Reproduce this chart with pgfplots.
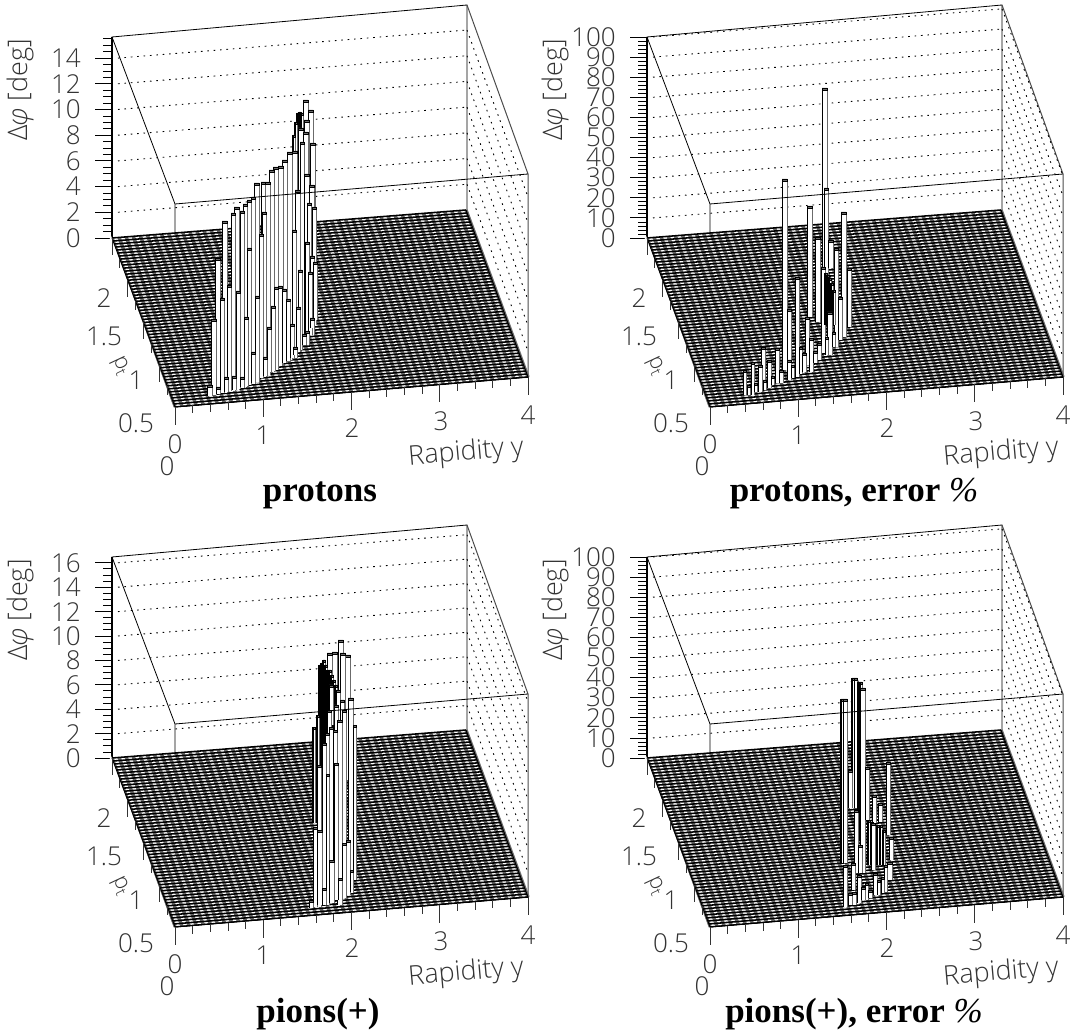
\documentclass[border=0pt]{standalone}
\usepackage{pgfplots}
\usepackage{pgfplotstable}
\usepackage{fontspec}
\pgfplotsset{compat=1.18}
\setmainfont{Open Sans Light}
\newfontfamily\titlefont{Liberation Serif}
\definecolor{lab}{gray}{0.2}
\definecolor{stripe}{gray}{0.42}

\pgfplotstableread{
x w t b
303 5 100 345
308 5 110 335
297 2 113 200
299 2 112 200
301 2 113 200
295 2 122 200
293 2 135 200
304 5 120 338
298 5 128 340
303 5 132 340
300 4 142 340
310 5 143 320
292 5 151 358
287 5 152 360
282 5 160 363
278 5 166 366
273 5 167 370
269 5 170 372
265 5 182 375
261 4 182 377
254 5 183 382
251 4 197 384
247 4 200 385
243 4 204 387
234 5 207 390
240 4 211 388
231 4 213 391
222 5 221 393
304 5 174 345
309 5 185 335
295 5 190 352
307 4 203 335
312 4 207 325
262 4 212 377
292 4 230 355
259 4 234 378
305 4 242 342
247 4 248 385
310 4 256 330
215 5 258 394
313 4 262 320
298 4 270 350
308 4 272 335
227 4 285 391
278 4 286 366
274 4 287 369
282 4 289 363
236 4 291 389
255 4 296 381
220 4 298 393
286 4 299 361
271 4 306 371
296 4 307 352
244 4 317 386
310 4 318 328
211 5 319 395
290 4 324 358
267 4 327 372
305 4 331 340
302 4 334 345
293 4 347 355
251 4 352 383
263 4 357 376
232 4 376 390
240 4 377 387
224 4 377 392
207 5 385 396
216 4 387 394
}\tblA

\pgfplotstableread{
x w t b
287 5 88 280
247 5 179 370
272 5 206 317
306 5 212 337
289 4 188 300
280 5 237 322
293 5 240 268
299 4 248 347
286 4 267 353
312 4 268 327
260 4 277 377
290 2 273 325
292 2 275 325
294 2 278 325
296 2 283 325
298 2 290 325
303 4 297 340
252 4 309 378
292 5 312 355
270 4 317 365
297 3 332 347
290 3 337 355
274 4 338 372
282 4 343 360
226 4 347 380
240 4 348 383
264 3 347 374
278 4 351 363
267 4 353 372
232 4 360 388
252 4 360 380
216 3 362 395
223 4 365 392
256 3 365 378
208 3 370 395
244 4 370 383
236 3 376 385
228 3 380 390
219 3 383 392
212 3 385 395
}\tblB

\pgfplotstableread{
x w t b
338 5 120 260
332 5 132 260
327 5 133 260
345 5 135 260
340 5 133 260
319 2 145 300
321 2 143 300
323 2 140 300
325 2 145 300
327 2 150 300
329 2 150 300
331 2 155 300
333 2 160 300
335 2 165 300
337 2 175 300
315 2 207 303
313 2 207 303
317 2 195 303
336 4 170 230
329 4 165 205
334 4 185 240
327 4 190 215
340 4 180 260
348 5 178 373
342 4 190 370
337 5 200 385
353 3 205 360
329 4 207 383
333 4 210 380
325 4 213 385
322 4 223 385
317 4 245 387
334 4 243 380
326 3 254 383
313 4 307 387
317 5 310 385
346 4 320 375
342 4 323 378
329 5 340 383
350 3 350 372
338 4 358 380
322 4 368 385
309 4 380 388
}\tblC

\pgfplotstableread{
x w t b
317 2 158 288
319 3 158 288
323 2 162 300
325 2 162 320
325 5 168 353
306 2 179 343
308 4 179 343
330 4 247 300
351 4 242 315
313 4 250 288
337 4 275 303
343 4 283 302
319 4 290 353
333 2 300 345
336 2 302 345
339 2 305 345
342 2 305 345
345 2 305 345
348 2 310 345
336 4 303 350
354 4 317 340
323 4 325 353
352 5 342 360
316 4 343 370
308 4 345 387
349 3 345 372
338 4 353 375
322 4 355 383
346 3 357 373
342 3 360 375
330 3 363 380
326 4 367 380
333 4 370 378
317 4 372 385
313 4 373 385
}\tblD

\def\meshS{}\def\meshR{}
\pgfplotsforeachungrouped \i in {0,...,50}{%
  \pgfmathsetmacro\ax{175+\i/50*353}\pgfmathsetmacro\ay{407-\i/50*30}%
  \pgfmathsetmacro\bx{112+\i/50*354}\pgfmathsetmacro\by{238-\i/50*28}%
  \xdef\meshS{\meshS(\ax,\ay)(\bx,\by)(nan,nan)}%
}
\pgfplotsforeachungrouped \i in {0,...,56}{%
  \pgfmathsetmacro\ax{175-\i/56*63}\pgfmathsetmacro\ay{407-\i/56*169}%
  \pgfmathsetmacro\bx{528-\i/56*62}\pgfmathsetmacro\by{377-\i/56*167}%
  \xdef\meshR{\meshR(\ax,\ay)(\bx,\by)(nan,nan)}%
}

\newcommand\seg[5]{\edef\tmp{\noexpand\addplot[#1] coordinates {(#2,#3)(#4,#5)};}\tmp}

\newcommand\drawbars[1]{%
  \pgfplotstablegetrowsof{#1}\pgfmathtruncatemacro\nr{\pgfplotsretval-1}%
  \pgfplotsforeachungrouped \r in {0,...,\nr}{%
    \pgfplotstablegetelem{\r}{x}\of{#1}\let\bx\pgfplotsretval
    \pgfplotstablegetelem{\r}{w}\of{#1}\let\bw\pgfplotsretval
    \pgfplotstablegetelem{\r}{t}\of{#1}\let\bt\pgfplotsretval
    \pgfplotstablegetelem{\r}{b}\of{#1}\let\bb\pgfplotsretval
    \pgfmathsetmacro\bxr{\bx+\bw}\pgfmathsetmacro\bc{\bt+2.5}%
    \ifnum\bw=2 \def\lw{2.6pt}\else\def\lw{1pt}\fi
    \edef\tmp{%
      \noexpand\addplot[fill=white,draw=none] coordinates {(\bx,\bb)(\bx,\bt)(\bxr,\bt)(\bxr,\bb)};
      \noexpand\addplot[draw=stripe,line width=.9pt] coordinates {(\bxr,\bt)(\bxr,\bb)};
      \noexpand\addplot[draw=black,line width=\lw] coordinates {(\bx,\bb)(\bx,\bt)};
      \noexpand\addplot[fill=stripe,draw=black,line width=.5pt] coordinates {(\bx,\bc)(\bx,\bt)(\bxr,\bt)(\bxr,\bc)(\bx,\bc)};
    }\tmp
  }}

\newcommand\panel[9]{%
\begin{axis}[at={(#1pt,#2pt)},anchor=south west,width=535pt,height=520pt,scale only axis,
  xmin=0,xmax=535,ymin=0,ymax=520,y dir=reverse,hide axis,clip=false,unbounded coords=jump]
  \addplot[black,line width=.8pt] coordinates {(112,238)(112,37)(467,5)(467,210)};
  \addplot[black,line width=.8pt] coordinates {(112,37)(175,204)(175,240)};
  \addplot[black!70,line width=1pt] coordinates {(467,5)(528,174)(528,377)};
  \pgfplotsforeachungrouped \i in {0,...,#6}{%
    \pgfmathsetmacro\zy{238-\i*#3}%
    \pgfmathtruncatemacro\m{mod(\i,#4)}%
    \ifnum\m=0
      \pgfmathtruncatemacro\lv{\i/#4*#5}%
      \seg{black,line width=.8pt}{95}{\zy}{112}{\zy}%
      \edef\tmp{\noexpand\node[zlab] at (axis cs:81,\zy) [anchor=east] {\lv};}\tmp
      \ifnum\i>0
        \pgfmathsetmacro\ya{\zy-28}\pgfmathsetmacro\yb{\zy-28+167}%
        \seg{black,line width=.9pt,dash pattern=on 1.6pt off 4.8pt}{118}{\zy}{466}{\ya}%
        \seg{black,line width=.9pt,dash pattern=on 1.6pt off 4.8pt}{467}{\ya}{528}{\yb}%
      \fi
    \else
      \seg{black,line width=.8pt}{103}{\zy}{112}{\zy}%
    \fi
  }
  \addplot[black,line width=1.3pt] coordinates {(112,238)(112,37)};
  \addplot[fill=white,draw=none] coordinates {(112,238)(466,210)(528,377)(175,407)};
  \edef\tmp{\noexpand\addplot[stripe,line width=3.4pt] coordinates {\meshS};}\tmp
  \edef\tmp{\noexpand\addplot[black,line width=1.55pt] coordinates {\meshR};}\tmp
  \addplot[fill=none,draw=white,line width=2pt] coordinates {(110,236)(173,409)(530,379)};
  \addplot[black,line width=1pt] coordinates {(112,238)(175,407)(528,377)(466,210)};
  \pgfplotsforeachungrouped \i in {0,...,20}{%
    \pgfmathsetmacro\tx{175+\i/20*353}\pgfmathsetmacro\ty{407-\i/20*30}%
    \pgfmathtruncatemacro\m{mod(\i,5)}%
    \ifnum\m=0 \pgfmathsetmacro\te{\ty+18}\else\pgfmathsetmacro\te{\ty+8}\fi
    \seg{black!80,line width=.9pt}{\tx}{\ty}{\tx}{\te}%
  }
  \pgfplotsforeachungrouped \i in {1,...,8}{%
    \pgfmathsetmacro\tx{175-\i/8*63}\pgfmathsetmacro\ty{407-\i/8*169}%
    \pgfmathtruncatemacro\m{mod(\i,2)}%
    \ifnum\m=0 \pgfmathsetmacro\te{\ty+17}\else\pgfmathsetmacro\te{\ty+9}\fi
    \seg{black!80,line width=.9pt}{\tx}{\ty}{\tx}{\te}%
  }
  \drawbars{#7}
  \addplot[black,line width=.8pt] coordinates {(175,204)(528,174)};
  \node[alab,rotate=90] at (axis cs:20,90) {Δ\textit{φ} [deg]};
  \node[zlab] at (axis cs:167,466) {0};
  \node[zlab] at (axis cs:136,423) {0.5};
  \node[zlab] at (axis cs:136,380) {1};
  \node[zlab] at (axis cs:104,336) {1.5};
  \node[zlab] at (axis cs:104,298) {2};
  \node[alab,rotate=-65] at (axis cs:120,366) {\fontsize{22}{22}\selectfont p\raisebox{-4pt}{\scalebox{.7}{t}}};
  \node[zlab] at (axis cs:175,444) {0};
  \node[zlab] at (axis cs:263,435) {1};
  \node[zlab] at (axis cs:352,428) {2};
  \node[zlab] at (axis cs:441,421) {3};
  \node[zlab] at (axis cs:528,415) {4};
  \node[alab,rotate=5] at (axis cs:466,453) {Rapidity y};
  \node[anchor=base,inner sep=0pt,font=\titlefont\bfseries\fontsize{35}{35}\selectfont] at (axis cs:#9,502) {#8};
\end{axis}}

\tikzset{
  zlab/.style={inner sep=0pt,text=lab,font=\fontsize{26}{26}\selectfont},
  alab/.style={inner sep=0pt,text=lab,font=\fontsize{27}{27}\selectfont},
}

\begin{document}
\begin{tikzpicture}[x=1pt,y=1pt]
  \useasboundingbox (0pt,0pt) rectangle (1073pt,1035pt);
  \panel{0}{515}{6.425}{4}{2}{31}{\tblA}{protons}{320}
  \panel{535}{515}{4.02}{5}{10}{50}{\tblB}{protons, error {\mdseries\itshape\%}}{319}
  \panel{0}{-5}{6.1}{4}{2}{32}{\tblC}{pions(+)}{318}
  \panel{535}{-5}{4.02}{5}{10}{50}{\tblD}{pions(+), error {\mdseries\itshape\%}}{319}
\end{tikzpicture}
\end{document}
